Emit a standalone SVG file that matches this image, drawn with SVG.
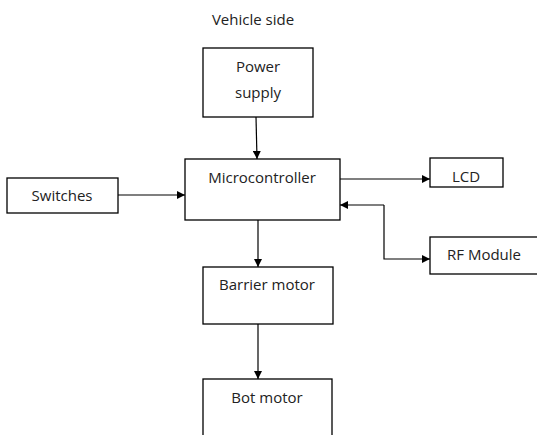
<svg xmlns="http://www.w3.org/2000/svg" width="537" height="435" viewBox="0 0 537 435">
<defs>
<style>
.box{fill:#fff;stroke:#000;stroke-width:1.3}
.t{font-family:"Open Sans","Liberation Sans",Arial,sans-serif;font-size:15px;fill:#222;text-anchor:middle}
.c{fill:none;stroke:#000;stroke-width:1.2}
</style>
<marker id="ah" viewBox="0 0 10 10" refX="10" refY="5" markerWidth="8" markerHeight="8" markerUnits="userSpaceOnUse" orient="auto">
<path d="M0,0 L10,5 L0,10 z" fill="#000"/>
</marker>
</defs>
<rect width="537" height="435" fill="#fff"/>
<text class="t" x="253" y="25">Vehicle side</text>
<g id="power"><rect class="box" x="203" y="48" width="110" height="69"/><text class="t" x="258" y="72">Power</text><text class="t" x="258" y="98">supply</text></g>
<g id="micro"><rect class="box" x="185" y="159" width="155" height="61"/><text class="t" x="262" y="183">Microcontroller</text></g>
<g id="switches"><rect class="box" x="7" y="178" width="111" height="35"/><text class="t" x="62" y="201">Switches</text></g>
<g id="lcd"><rect class="box" x="430" y="158" width="73" height="29"/><text class="t" x="466" y="182">LCD</text></g>
<g id="rf"><rect class="box" x="430" y="237" width="110" height="37"/><text class="t" x="484" y="260">RF Module</text></g>
<g id="barrier"><rect class="box" x="203" y="267" width="130" height="57"/><text class="t" x="267" y="290">Barrier motor</text></g>
<g id="bot"><rect class="box" x="203" y="379" width="129" height="60"/><text class="t" x="267" y="403">Bot motor</text></g>
<g id="connectors">
<line class="c" x1="256" y1="117" x2="257" y2="159" marker-end="url(#ah)"/>
<line class="c" x1="118" y1="195" x2="185" y2="195" marker-end="url(#ah)"/>
<line class="c" x1="340" y1="179" x2="430" y2="179" marker-end="url(#ah)"/>
<polyline class="c" points="384,205 384,259 430,259" marker-end="url(#ah)"/>
<line class="c" x1="384" y1="205" x2="340" y2="205" marker-end="url(#ah)"/>
<line class="c" x1="258" y1="220" x2="258" y2="267" marker-end="url(#ah)"/>
<line class="c" x1="258" y1="324" x2="258" y2="379" marker-end="url(#ah)"/>
</g>
</svg>
